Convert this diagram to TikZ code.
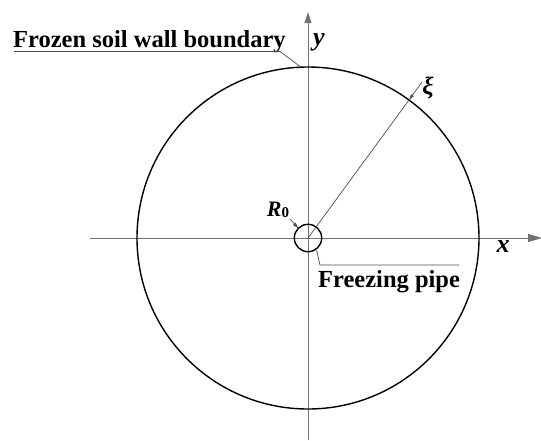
\documentclass[tikz,border=0pt]{standalone}
\usepackage{fontspec}
\setmainfont{Liberation Serif}
\usetikzlibrary{arrows.meta}
\begin{document}
\begin{tikzpicture}[x=1pt,y=-1pt,
  axis/.style={draw=black!55,line width=0.9pt},
  ring/.style={draw=black,line width=1.4pt},
  leader/.style={draw=black!70,line width=0.7pt},
  lbl/.style={inner sep=0pt,font=\fontsize{24.5}{28}\selectfont\bfseries},
  sym/.style={inner sep=0pt,font=\fontsize{26}{30}\selectfont\bfseries\itshape}]
\useasboundingbox (0,0) rectangle (541,440);
\coordinate (O) at (308,238);
% axes
\coordinate (xl) at (90,238);
\coordinate (xr) at (542,238);
\coordinate (yb) at (308,440);
\coordinate (yt) at (308,12);
\draw[axis,-{Triangle[length=14pt,width=8pt]}] (xl) -- (xr);
\draw[axis,-{Triangle[length=11pt,width=7pt]}] (yb) -- (yt);
% circles
\draw[ring] (O) circle[radius=171];
\draw[ring] (O) circle[radius=13.7];
% xi line
\coordinate (xiend) at (422,82);
\coordinate (xicr2) at (409,100);
\draw[leader] (O) -- (xicr2);
\draw[leader,-{Triangle[length=6pt,width=3pt]}] (xiend) -- (xicr2);
\node[inner sep=0pt,font=\fontsize{25}{29}\selectfont\bfseries\itshape] (xi) at (428,88) {ξ};
% labels
\node[sym] (xlab) at (503,247) {x};
\node[sym] (ylab) at (319,42) {y};
\node[inner sep=0pt,font=\fontsize{22}{26}\selectfont\bfseries\itshape] (R0) at (278,210) {R\raisebox{-1.5pt}{\fontsize{15}{17}\selectfont\bfseries\upshape 0}};
\coordinate (r0a) at (290,219);
\coordinate (r0b) at (298.3,228.3);
\draw[leader,-{Triangle[length=6pt,width=3.5pt]}] (r0a) -- (r0b);
% frozen soil wall boundary
\node[lbl,anchor=base west] (fz) at (13,47) {Frozen soil wall boundary};
\coordinate (ul1) at (14,51.5);
\coordinate (ul2) at (280,51.5);
\coordinate (ctop) at (301,67.2);
\draw[leader] (ul1) -- (ul2) -- (ctop);
% freezing pipe
\coordinate (fp1) at (316.5,249.5);
\coordinate (fp2) at (320,265);
\coordinate (fp3) at (459,265);
\draw[leader] (fp1) -- (fp2) -- (fp3);
\node[lbl,anchor=base west] (fp) at (318,287) {Freezing pipe};
\end{tikzpicture}
\end{document}
